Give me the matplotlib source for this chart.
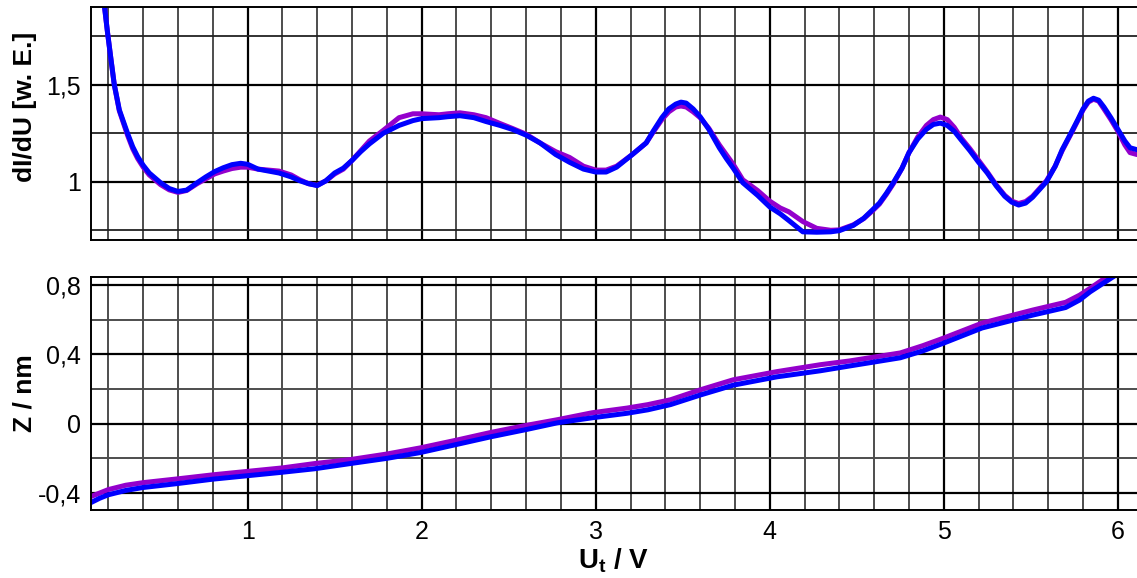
import matplotlib.pyplot as plt
from matplotlib.ticker import MultipleLocator, FixedLocator

plt.rcParams['font.family'] = ['Liberation Sans', 'DejaVu Sans']
plt.rcParams['mathtext.fontset'] = 'custom'
plt.rcParams['mathtext.bf'] = 'Liberation Sans:bold'
plt.rcParams['mathtext.rm'] = 'Liberation Sans'

# dI/dU spectra (arbitrary units)
u_didu = [0.165, 0.195, 0.215, 0.234, 0.263, 0.31, 0.34, 0.368, 0.40, 0.435,
          0.50, 0.55, 0.60, 0.65, 0.71, 0.76, 0.81, 0.86, 0.91, 0.96,
          1.00, 1.06, 1.12, 1.18, 1.25, 1.30, 1.35, 1.40, 1.45, 1.50,
          1.55, 1.60, 1.65, 1.70, 1.78, 1.87, 1.95, 2.00, 2.10, 2.15,
          2.22, 2.30, 2.37, 2.45, 2.52, 2.60, 2.68, 2.77, 2.85, 2.93,
          3.00, 3.06, 3.12, 3.21, 3.29, 3.33, 3.38, 3.42, 3.46, 3.49,
          3.52, 3.56, 3.60, 3.65, 3.71, 3.75, 3.79, 3.845, 3.93, 4.00,
          4.06, 4.11, 4.19, 4.27, 4.35, 4.40, 4.48, 4.54, 4.59, 4.63,
          4.67, 4.71, 4.76, 4.80, 4.85, 4.90, 4.94, 4.98, 5.02, 5.06,
          5.10, 5.15, 5.20, 5.25, 5.30, 5.35, 5.39, 5.43, 5.47, 5.51,
          5.55, 5.59, 5.64, 5.68, 5.73, 5.77, 5.80, 5.83, 5.86, 5.89,
          5.92, 5.96, 6.00, 6.04, 6.07, 6.11]
didu_blue = [2.00, 1.77, 1.63, 1.50, 1.37, 1.25, 1.18, 1.13, 1.085, 1.045,
             0.995, 0.965, 0.950, 0.957, 0.995, 1.025, 1.052, 1.072, 1.088, 1.095,
             1.09, 1.065, 1.055, 1.045, 1.025, 1.005, 0.99, 0.98, 1.005, 1.045,
             1.07, 1.11, 1.155, 1.195, 1.25, 1.29, 1.315, 1.325, 1.33, 1.335,
             1.34, 1.33, 1.31, 1.29, 1.27, 1.24, 1.20, 1.14, 1.10, 1.065,
             1.05, 1.05, 1.075, 1.14, 1.20, 1.26, 1.33, 1.375, 1.40, 1.41,
             1.405, 1.375, 1.335, 1.27, 1.175, 1.12, 1.07, 0.995, 0.93, 0.87,
             0.835, 0.80, 0.742, 0.74, 0.742, 0.748, 0.775, 0.812, 0.855, 0.89,
             0.94, 0.995, 1.07, 1.15, 1.22, 1.27, 1.295, 1.302, 1.29, 1.26,
             1.215, 1.16, 1.10, 1.045, 0.98, 0.925, 0.895, 0.88, 0.89, 0.92,
             0.96, 1.00, 1.08, 1.165, 1.25, 1.32, 1.375, 1.415, 1.43, 1.42,
             1.385, 1.33, 1.27, 1.21, 1.175, 1.165]
didu_purple = [2.00, 1.77, 1.63, 1.50, 1.365, 1.24, 1.17, 1.12, 1.075, 1.035,
               0.985, 0.958, 0.945, 0.955, 0.99, 1.015, 1.04, 1.055, 1.068, 1.075,
               1.075, 1.065, 1.06, 1.055, 1.035, 1.01, 0.99, 0.982, 1.005, 1.04,
               1.065, 1.11, 1.16, 1.21, 1.265, 1.33, 1.35, 1.35, 1.345, 1.35,
               1.355, 1.345, 1.33, 1.30, 1.275, 1.245, 1.20, 1.155, 1.125, 1.08,
               1.06, 1.06, 1.08, 1.14, 1.20, 1.255, 1.32, 1.36, 1.385, 1.39,
               1.385, 1.36, 1.33, 1.275, 1.19, 1.14, 1.09, 1.01, 0.955, 0.90,
               0.865, 0.845, 0.795, 0.76, 0.75, 0.752, 0.778, 0.81, 0.85, 0.885,
               0.935, 0.99, 1.07, 1.15, 1.23, 1.29, 1.32, 1.333, 1.32, 1.28,
               1.225, 1.17, 1.11, 1.05, 0.985, 0.93, 0.90, 0.888, 0.898, 0.925,
               0.965, 1.005, 1.08, 1.16, 1.245, 1.315, 1.37, 1.41, 1.425, 1.415,
               1.375, 1.32, 1.26, 1.19, 1.15, 1.14]

# tip height z(U)
u_z = [0.10, 0.15, 0.20, 0.30, 0.40, 0.60, 0.80, 1.00, 1.20, 1.385,
       1.59, 1.80, 1.99, 2.20, 2.40, 2.60, 2.78, 2.98, 3.18, 3.30,
       3.43, 3.60, 3.79, 4.04, 4.29, 4.46, 4.75, 4.88, 5.00, 5.22,
       5.51, 5.70, 5.78, 5.84, 5.97, 6.01]
z_blue = [-0.455, -0.43, -0.41, -0.385, -0.368, -0.345, -0.32, -0.30, -0.28, -0.26,
          -0.23, -0.20, -0.167, -0.12, -0.075, -0.034, 0.005, 0.034, 0.06, 0.08,
          0.11, 0.165, 0.222, 0.27, 0.305, 0.333, 0.38, 0.42, 0.465, 0.552,
          0.626, 0.67, 0.713, 0.76, 0.845, 0.87]
z_purple = [-0.42, -0.40, -0.38, -0.355, -0.34, -0.318, -0.295, -0.275, -0.255, -0.23,
            -0.207, -0.175, -0.14, -0.095, -0.05, -0.01, 0.023, 0.063, 0.09, 0.11,
            0.138, 0.195, 0.253, 0.30, 0.34, 0.362, 0.408, 0.45, 0.494, 0.58,
            0.655, 0.70, 0.741, 0.78, 0.87, 0.89]

x_ticks = [1, 2, 3, 4, 5, 6]
x_labels = ['1', '2', '3', '4', '5', '6']
didu_ticks = [1.0, 1.5]
didu_labels = ['1', '1,5']
z_ticks = [-0.4, 0.0, 0.4, 0.8]
z_labels = ['-0,4', '0', '0,4', '0,8']

purple = '#9400CC'
blue = '#0000FF'

fig = plt.figure(figsize=(11.37, 5.78), dpi=100)
ax1 = fig.add_axes([0.080, 0.5848, 0.920, 0.4031])
ax2 = fig.add_axes([0.080, 0.1176, 0.920, 0.4032])

for ax in (ax1, ax2):
    ax.set_xlim(0.1, 6.11)
    ax.xaxis.set_major_locator(FixedLocator(x_ticks))
    ax.xaxis.set_minor_locator(MultipleLocator(0.2))
    ax.set_axisbelow(True)
    ax.xaxis.grid(True, which='major', color='black', lw=1.6)
    ax.xaxis.grid(True, which='minor', color='#4d4d4d', lw=1.4)
    ax.yaxis.grid(True, which='major', color='black', lw=1.6)
    ax.tick_params(which='both', length=0, labelsize=18, pad=7)
    ax.spines['right'].set_visible(False)
    for s in ('left', 'top', 'bottom'):
        ax.spines[s].set_linewidth(1.4)

ax1.plot(u_didu, didu_purple, color=purple, lw=3.6, solid_capstyle='round')
ax1.plot(u_didu, didu_blue, color=blue, lw=3.6, solid_capstyle='round')
ax1.set_ylim(0.70, 1.90)
ax1.set_yticks(didu_ticks)
ax1.set_yticklabels(didu_labels)
ax1.yaxis.set_minor_locator(MultipleLocator(0.25))
ax1.yaxis.grid(True, which='minor', color='#222222', lw=1.3)
ax1.set_xticklabels([])
ax1.set_ylabel('dI/dU [w. E.]', fontsize=19, fontweight='bold')
ax1.yaxis.set_label_coords(-0.052, 0.57)

ax2.plot(u_z, z_purple, color=purple, lw=3.6, solid_capstyle='round')
ax2.plot(u_z, z_blue, color=blue, lw=3.6, solid_capstyle='round')
ax2.set_ylim(-0.498, 0.846)
ax2.set_yticks(z_ticks)
ax2.set_yticklabels(z_labels)
ax2.yaxis.set_minor_locator(MultipleLocator(0.2))
ax2.yaxis.grid(True, which='minor', color='#4d4d4d', lw=1.4)
ax2.set_xticklabels(x_labels)
ax2.set_ylabel('Z / nm', fontsize=19, fontweight='bold')
ax2.yaxis.set_label_coords(-0.052, 0.5)
ax2.set_xlabel(r'$\mathbf{U_t}$ / V', fontsize=20, fontweight='bold', labelpad=2)

fig.savefig('out.png', dpi=100)
